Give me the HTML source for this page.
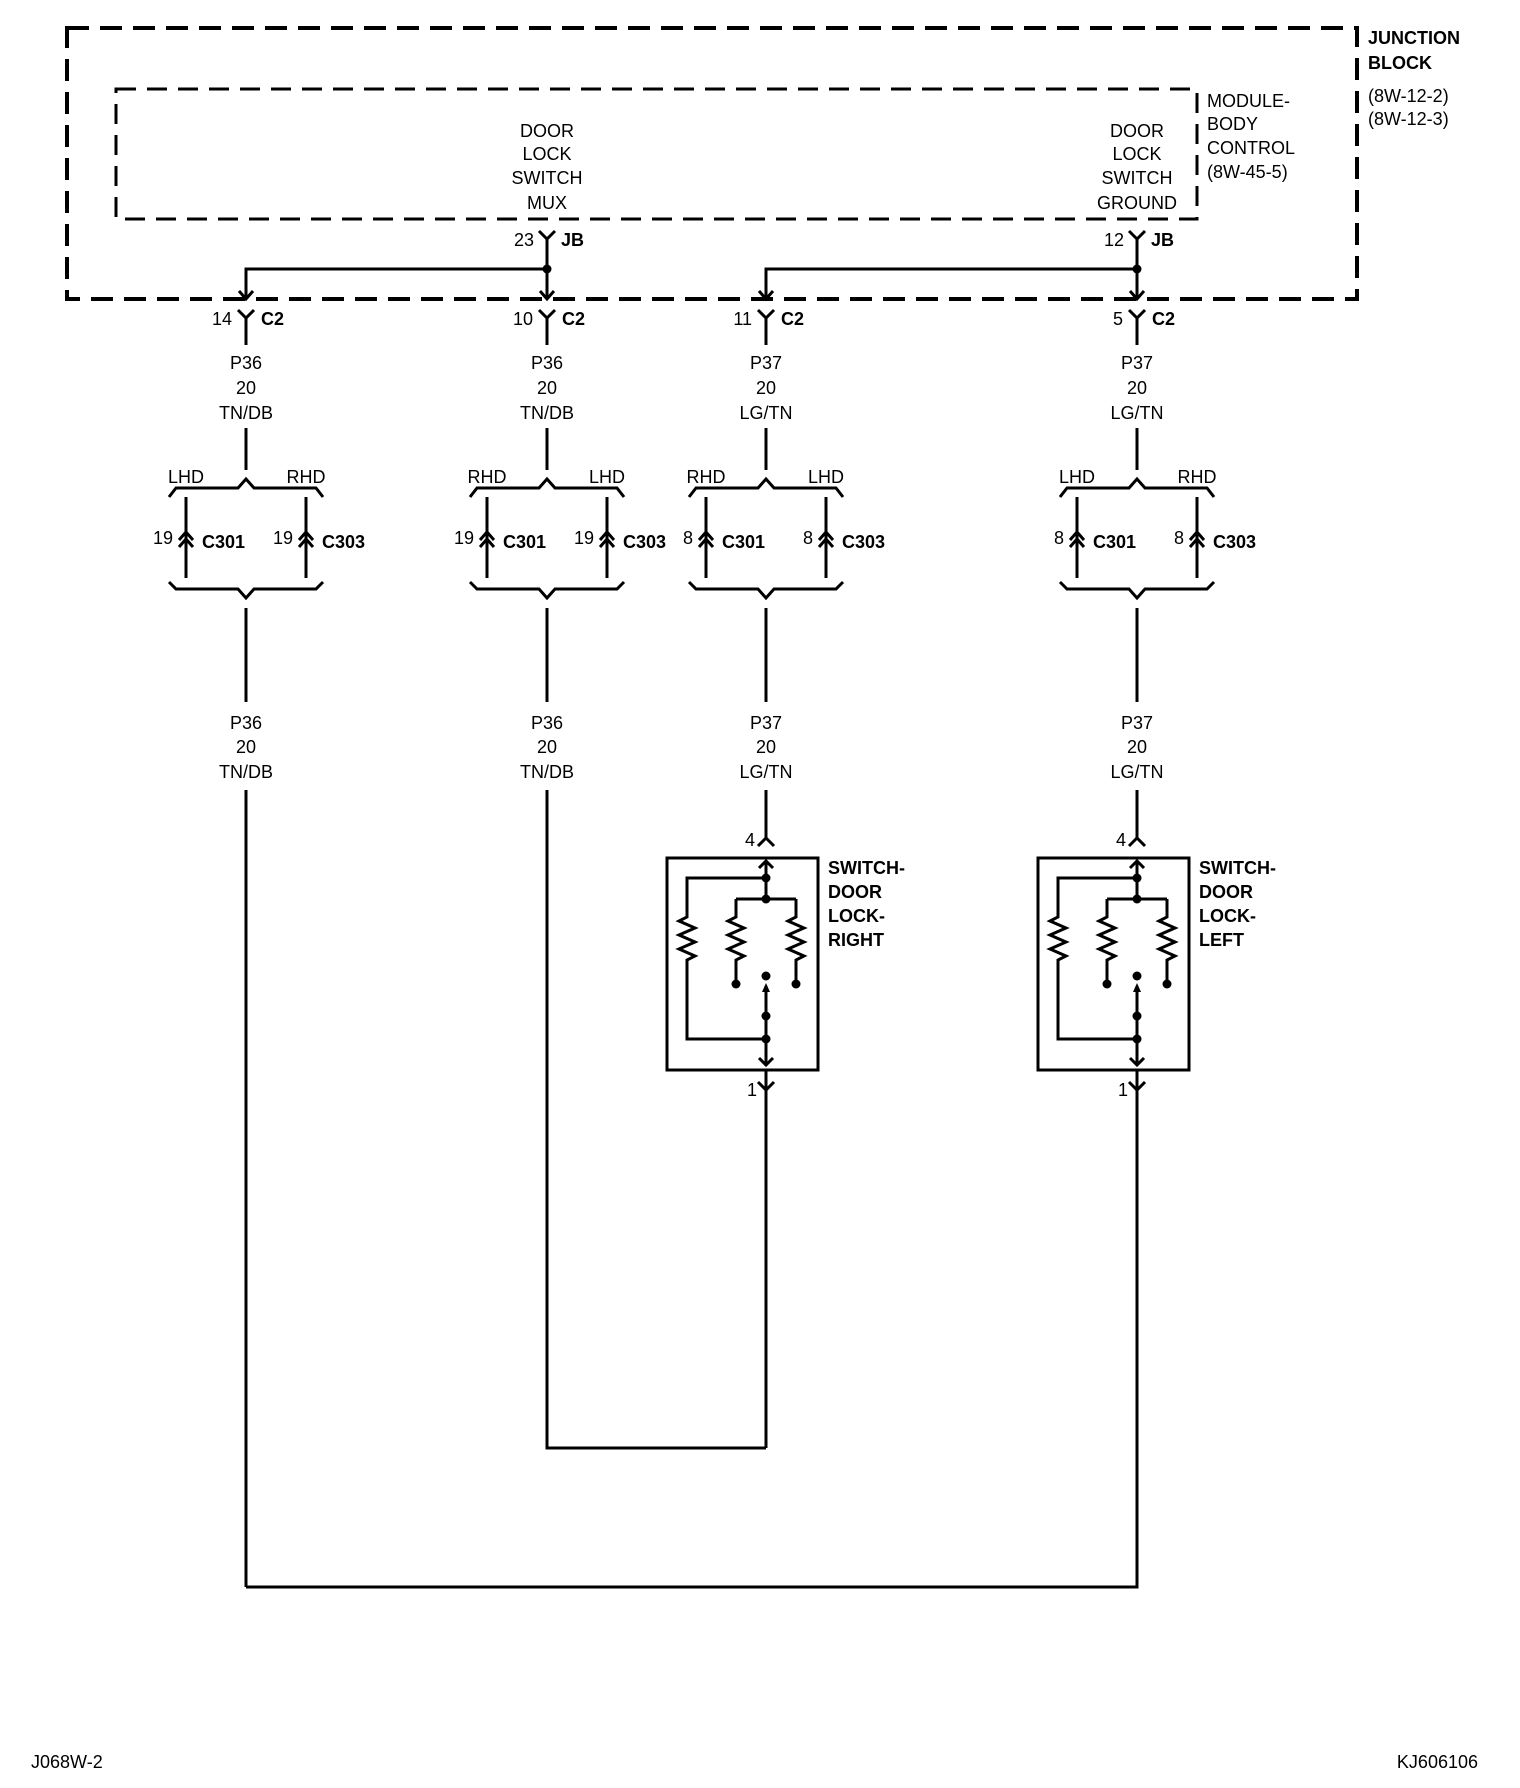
<!DOCTYPE html>
<html><head><meta charset="utf-8"><style>
html,body{margin:0;padding:0;background:#fff}
svg{display:block}
text{font-family:"Liberation Sans",sans-serif;font-size:18px;fill:#000}
.b{font-weight:bold}
</style></head><body>
<svg width="1520" height="1788" viewBox="0 0 1520 1788" xmlns="http://www.w3.org/2000/svg">
<g fill="none" stroke="#000">
<rect x="67" y="28" width="1290" height="271" stroke-width="4" stroke-dasharray="22,11"/>
<rect x="116" y="89" width="1081" height="130" stroke-width="3" stroke-dasharray="20,11"/>
</g>
<text x="1368" y="44" class="b">JUNCTION</text>
<text x="1368" y="69" class="b">BLOCK</text>
<text x="1368" y="102">(8W-12-2)</text>
<text x="1368" y="125">(8W-12-3)</text>
<text x="1207" y="107">MODULE-</text>
<text x="1207" y="130">BODY</text>
<text x="1207" y="154">CONTROL</text>
<text x="1207" y="178">(8W-45-5)</text>
<g text-anchor="middle">
<text x="547" y="137">DOOR</text><text x="547" y="160">LOCK</text><text x="547" y="184">SWITCH</text><text x="547" y="209">MUX</text>
<text x="1137" y="137">DOOR</text><text x="1137" y="160">LOCK</text><text x="1137" y="184">SWITCH</text><text x="1137" y="209">GROUND</text>
</g>
<g fill="none" stroke="#000" stroke-width="3">
<path d="M539,231 L547,239 L555,231 M547,239 V299 M540,291 L547,299 L554,291"/>
<path d="M1129,231 L1137,239 L1145,231 M1137,239 V299 M1130,291 L1137,299 L1144,291"/>
<path d="M547,269 H246 V299 M239,291 L246,299 L253,291"/>
<path d="M1137,269 H766 V299 M759,291 L766,299 L773,291"/>
</g>
<circle cx="547" cy="269" r="4.5"/><circle cx="1137" cy="269" r="4.5"/>
<text x="534" y="246" text-anchor="end">23</text><text x="561" y="246" class="b">JB</text>
<text x="1124" y="246" text-anchor="end">12</text><text x="1151" y="246" class="b">JB</text>

<g transform="translate(246,0)">
<g fill="none" stroke="#000" stroke-width="3">
<path d="M-8,310 L0,318 L8,310 M0,318 V345 M0,428 V470 M-77,497 L-70,488 L-8,488 L0,479 L8,488 L70,488 L77,497 M-60,497 V578 M60,497 V578 M-67,540 L-60,532 L-53,540 M-67,547 L-60,539 L-53,547 M53,540 L60,532 L67,540 M53,547 L60,539 L67,547 M-77,582 L-70,589 L-8,589 L0,598 L8,589 L70,589 L77,582 M0,608 V702 M0,790 V1587"/>
</g>
<g text-anchor="middle"><text x="0" y="369">P36</text><text x="0" y="394">20</text><text x="0" y="419">TN/DB</text><text x="-60" y="483">LHD</text><text x="60" y="483">RHD</text><text x="0" y="729">P36</text><text x="0" y="753">20</text><text x="0" y="778">TN/DB</text></g>
<text x="-14" y="325" text-anchor="end">14</text><text x="15" y="325" class="b">C2</text>
<text x="-73" y="544" text-anchor="end">19</text><text x="-44" y="548" class="b">C301</text>
<text x="47" y="544" text-anchor="end">19</text><text x="76" y="548" class="b">C303</text>
</g>

<g transform="translate(547,0)">
<g fill="none" stroke="#000" stroke-width="3">
<path d="M-8,310 L0,318 L8,310 M0,318 V345 M0,428 V470 M-77,497 L-70,488 L-8,488 L0,479 L8,488 L70,488 L77,497 M-60,497 V578 M60,497 V578 M-67,540 L-60,532 L-53,540 M-67,547 L-60,539 L-53,547 M53,540 L60,532 L67,540 M53,547 L60,539 L67,547 M-77,582 L-70,589 L-8,589 L0,598 L8,589 L70,589 L77,582 M0,608 V702 M0,790 V1448 H219"/>
</g>
<g text-anchor="middle"><text x="0" y="369">P36</text><text x="0" y="394">20</text><text x="0" y="419">TN/DB</text><text x="-60" y="483">RHD</text><text x="60" y="483">LHD</text><text x="0" y="729">P36</text><text x="0" y="753">20</text><text x="0" y="778">TN/DB</text></g>
<text x="-14" y="325" text-anchor="end">10</text><text x="15" y="325" class="b">C2</text>
<text x="-73" y="544" text-anchor="end">19</text><text x="-44" y="548" class="b">C301</text>
<text x="47" y="544" text-anchor="end">19</text><text x="76" y="548" class="b">C303</text>
</g>

<g transform="translate(766,0)">
<g fill="none" stroke="#000" stroke-width="3">
<path d="M-8,310 L0,318 L8,310 M0,318 V345 M0,428 V470 M-77,497 L-70,488 L-8,488 L0,479 L8,488 L70,488 L77,497 M-60,497 V578 M60,497 V578 M-67,540 L-60,532 L-53,540 M-67,547 L-60,539 L-53,547 M53,540 L60,532 L67,540 M53,547 L60,539 L67,547 M-77,582 L-70,589 L-8,589 L0,598 L8,589 L70,589 L77,582 M0,608 V702 M0,790 V838 M-8,846 L0,838 L8,846"/>
</g>
<g text-anchor="middle"><text x="0" y="369">P37</text><text x="0" y="394">20</text><text x="0" y="419">LG/TN</text><text x="-60" y="483">RHD</text><text x="60" y="483">LHD</text><text x="0" y="729">P37</text><text x="0" y="753">20</text><text x="0" y="778">LG/TN</text></g>
<text x="-14" y="325" text-anchor="end">11</text><text x="15" y="325" class="b">C2</text>
<text x="-73" y="544" text-anchor="end">8</text><text x="-44" y="548" class="b">C301</text>
<text x="47" y="544" text-anchor="end">8</text><text x="76" y="548" class="b">C303</text>
</g>

<g transform="translate(1137,0)">
<g fill="none" stroke="#000" stroke-width="3">
<path d="M-8,310 L0,318 L8,310 M0,318 V345 M0,428 V470 M-77,497 L-70,488 L-8,488 L0,479 L8,488 L70,488 L77,497 M-60,497 V578 M60,497 V578 M-67,540 L-60,532 L-53,540 M-67,547 L-60,539 L-53,547 M53,540 L60,532 L67,540 M53,547 L60,539 L67,547 M-77,582 L-70,589 L-8,589 L0,598 L8,589 L70,589 L77,582 M0,608 V702 M0,790 V838 M-8,846 L0,838 L8,846"/>
</g>
<g text-anchor="middle"><text x="0" y="369">P37</text><text x="0" y="394">20</text><text x="0" y="419">LG/TN</text><text x="-60" y="483">LHD</text><text x="60" y="483">RHD</text><text x="0" y="729">P37</text><text x="0" y="753">20</text><text x="0" y="778">LG/TN</text></g>
<text x="-14" y="325" text-anchor="end">5</text><text x="15" y="325" class="b">C2</text>
<text x="-73" y="544" text-anchor="end">8</text><text x="-44" y="548" class="b">C301</text>
<text x="47" y="544" text-anchor="end">8</text><text x="76" y="548" class="b">C303</text>
</g>

<g transform="translate(766,0)">
<g fill="none" stroke="#000" stroke-width="3">
<rect x="-99" y="858" width="151" height="212"/>
<path d="M-7,868 L0,861 L7,868 M0,861 V899 M0,878 H-79 V917 l-8,4 l16,7 l-16,7 l16,7 l-16,7 l16,7 l-8,4 V1039 H0"/>
<path d="M-30,899 H30 M-30,899 V917 l-8,4 l16,7 l-16,7 l16,7 l-16,7 l16,7 l-8,4 V984 M30,899 V917 l-8,4 l16,7 l-16,7 l16,7 l-16,7 l16,7 l-8,4 V984"/>
<path d="M0,986 V1065 M-7,1058 L0,1065 L7,1058 M0,1070 V1090 M-8,1082 L0,1090 L8,1082 M0,1090 V1448"/>
</g>
<path d="M0,983 L-4,992 L4,992 Z"/>
<circle cx="0" cy="878" r="4.5"/><circle cx="0" cy="899" r="4.5"/><circle cx="-30" cy="984" r="4.5"/><circle cx="30" cy="984" r="4.5"/><circle cx="0" cy="976" r="4.5"/><circle cx="0" cy="1016" r="4.5"/><circle cx="0" cy="1039" r="4.5"/>
<text x="-11" y="846" text-anchor="end">4</text><text x="-9" y="1096" text-anchor="end">1</text>
<text x="62" y="874" class="b">SWITCH-</text><text x="62" y="898" class="b">DOOR</text><text x="62" y="922" class="b">LOCK-</text><text x="62" y="946" class="b">RIGHT</text>
</g>
<g transform="translate(1137,0)">
<g fill="none" stroke="#000" stroke-width="3">
<rect x="-99" y="858" width="151" height="212"/>
<path d="M-7,868 L0,861 L7,868 M0,861 V899 M0,878 H-79 V917 l-8,4 l16,7 l-16,7 l16,7 l-16,7 l16,7 l-8,4 V1039 H0"/>
<path d="M-30,899 H30 M-30,899 V917 l-8,4 l16,7 l-16,7 l16,7 l-16,7 l16,7 l-8,4 V984 M30,899 V917 l-8,4 l16,7 l-16,7 l16,7 l-16,7 l16,7 l-8,4 V984"/>
<path d="M0,986 V1065 M-7,1058 L0,1065 L7,1058 M0,1070 V1090 M-8,1082 L0,1090 L8,1082 M0,1090 V1587 H-891"/>
</g>
<path d="M0,983 L-4,992 L4,992 Z"/>
<circle cx="0" cy="878" r="4.5"/><circle cx="0" cy="899" r="4.5"/><circle cx="-30" cy="984" r="4.5"/><circle cx="30" cy="984" r="4.5"/><circle cx="0" cy="976" r="4.5"/><circle cx="0" cy="1016" r="4.5"/><circle cx="0" cy="1039" r="4.5"/>
<text x="-11" y="846" text-anchor="end">4</text><text x="-9" y="1096" text-anchor="end">1</text>
<text x="62" y="874" class="b">SWITCH-</text><text x="62" y="898" class="b">DOOR</text><text x="62" y="922" class="b">LOCK-</text><text x="62" y="946" class="b">LEFT</text>
</g>

<text x="31" y="1768">J068W-2</text>
<text x="1478" y="1768" text-anchor="end">KJ606106</text>
</svg>
</body></html>
